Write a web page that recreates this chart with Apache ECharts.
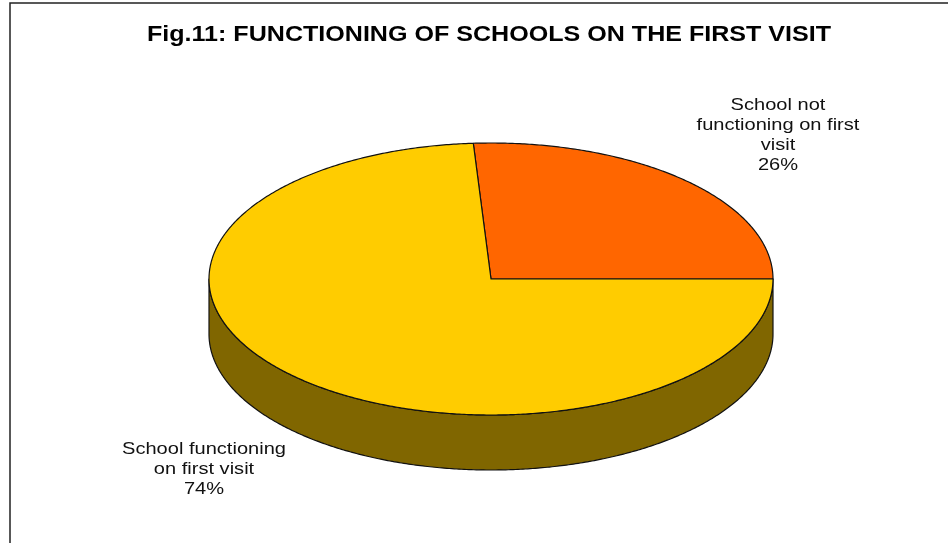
<!DOCTYPE html>
<html>
<head>
<meta charset="utf-8">
<style>html,body{margin:0;padding:0;background:#fff}#chart{width:948px;height:543px}</style>
<script src="https://cdn.jsdelivr.net/npm/echarts@6/dist/echarts.min.js"></script>
</head>
<body>
<div id="chart"></div>
<script>
const chartTitle = 'Fig.11: FUNCTIONING OF SCHOOLS ON THE FIRST VISIT';
const categories = ['School not\nfunctioning on first\nvisit', 'School functioning\non first visit'];
const shares = [26, 74];
const sliceColors = ['#FF6600', '#FFCC00'];
const wallColor = '#806600';

// Disc geometry of the tilted pie, in pixels.
const disc = { cx: 491, cy: 279, rx: 282, ry: 136, depth: 55 };
// The first slice ends on the east radius, so it starts one slice-width before it.
const startAngle = 90 - shares[0] * 3.6;
const labelAnchors = [{ x: 778, y: 135 }, { x: 204, y: 469 }];
const labelFont = '17px "Liberation Sans", Arial, sans-serif';
const labelScaleX = 1.18;

const total = shares.reduce((a, b) => a + b, 0);

// Angles run clockwise from twelve o'clock, in degrees.
function rimPoint(deg, drop) {
  const t = deg * Math.PI / 180;
  return [disc.cx + disc.rx * Math.sin(t), disc.cy - disc.ry * Math.cos(t) + (drop || 0)];
}
function arcPoints(from, to, drop) {
  const pts = [];
  const steps = Math.max(2, Math.ceil(Math.abs(to - from) * 2));
  for (let i = 0; i <= steps; i++) pts.push(rimPoint(from + (to - from) * i / steps, drop));
  return pts;
}

function renderSlice(params, api) {
  const i = params.dataIndex;
  const before = shares.slice(0, i).reduce((a, b) => a + b, 0);
  const from = startAngle + before / total * 360;
  const to = from + api.value(0) / total * 360;
  const stroke = { stroke: '#111', lineWidth: 1.2, lineJoin: 'round' };
  const children = [];

  // Side wall: the part of the slice that lies on the front half of the rim.
  const wallFrom = Math.max(from, 90);
  const wallTo = Math.min(to, 270);
  if (wallTo > wallFrom) {
    const wall = arcPoints(wallFrom, wallTo, 0).concat(arcPoints(wallTo, wallFrom, disc.depth));
    children.push({ type: 'polygon', shape: { points: wall }, style: Object.assign({ fill: wallColor }, stroke) });
  }

  // Top face.
  const top = [[disc.cx, disc.cy]].concat(arcPoints(from, to, 0));
  children.push({ type: 'polygon', shape: { points: top }, style: Object.assign({ fill: sliceColors[i] }, stroke) });

  // Slice label with its share underneath.
  const a = labelAnchors[i];
  children.push({
    type: 'text', x: a.x, y: a.y, scaleX: labelScaleX, z2: 10,
    style: {
      text: categories[i] + '\n' + api.value(0) + '%',
      fill: '#111', font: labelFont,
      align: 'center', verticalAlign: 'middle', lineHeight: 20
    }
  });
  return { type: 'group', children: children };
}

const chart = echarts.init(document.getElementById('chart'), null, { renderer: 'canvas' });
chart.setOption({
  backgroundColor: '#fff',
  animation: false,
  graphic: [{
    type: 'polyline',
    shape: { points: [[10, 543], [10, 3], [948, 3]] },
    style: { stroke: '#222', lineWidth: 1.5, fill: null }
  }, {
    type: 'text', x: 489, y: 35, scaleX: 1.14,
    style: {
      text: chartTitle, fill: '#000',
      font: 'bold 22px "Liberation Sans", Arial, sans-serif',
      align: 'center', verticalAlign: 'middle'
    }
  }],
  series: [{
    type: 'custom',
    coordinateSystem: 'none',
    renderItem: renderSlice,
    data: shares.map(v => [v])
  }]
});
</script>
</body>
</html>
